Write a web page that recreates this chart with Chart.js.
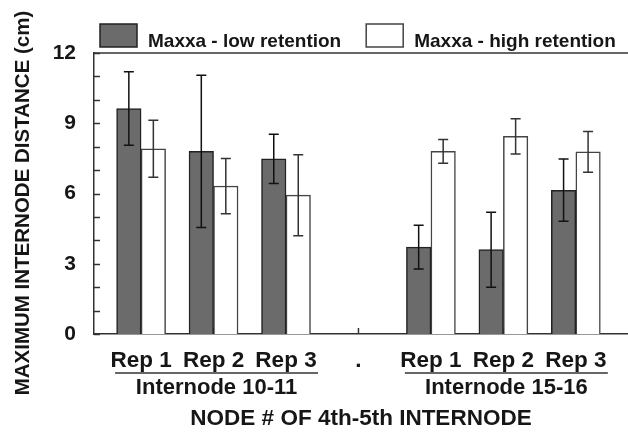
<!DOCTYPE html>
<html>
<head>
<meta charset="utf-8">
<script src="https://cdn.jsdelivr.net/npm/chart.js@4/dist/chart.umd.min.js"></script>
<style>
  html, body { margin: 0; padding: 0; background: #ffffff; }
  canvas { display: block; }
</style>
</head>
<body>
<canvas id="chart" width="628" height="432"></canvas>
<script>
// values (cm), "." is the empty spacer between the two internodes
const categories = ["Rep 1", "Rep 2", "Rep 3", ".", "Rep 1", "Rep 2", "Rep 3"]
const lowRetention = [9.63, 7.8, 7.48, null, 3.71, 3.6, 6.14]
const lowError = [1.57, 3.25, 1.05, null, 0.93, 1.6, 1.33]
const highRetention = [7.91, 6.32, 5.93, null, 7.8, 8.44, 7.78]
const highError = [1.22, 1.18, 1.73, null, 0.51, 0.75, 0.87]
const groupLabels = ["Internode 10-11", "Internode 15-16"]
const groupRanges = [[0, 2], [4, 6]]
const yTickValues = [0, 3, 6, 9, 12]
const yTitle = "MAXIMUM INTERNODE DISTANCE (cm)"

const FONT = "'Liberation Sans', Arial, Helvetica, sans-serif"
const INK = "#161616"
const DARK = "#6b6b6b"

Chart.defaults.font.family = FONT
Chart.defaults.color = INK

function points(values) {
    return values.map((y, i) => y == null ? null : { x: i, y: y }).filter(p => p)
}
function errs(values) {
    return values.filter(v => v != null)
}

const extras = {
    id: "extras",
    beforeDatasetsDraw(chart) {
        const ctx = chart.ctx
        const { left, right, top, bottom } = chart.chartArea
        const x = chart.scales.x, y = chart.scales.y
        ctx.save()
        ctx.strokeStyle = "#333"
        ctx.lineWidth = 1.5
        // inner tick marks
        for (let v = 0; v <= 12; v++) {
            const py = Math.round(y.getPixelForValue(v)) + 0.5
            ctx.beginPath(); ctx.moveTo(left, py); ctx.lineTo(left + 6, py); ctx.stroke()
        }
        categories.forEach((c, i) => {
            const px = x.getPixelForValue(i)
            ctx.beginPath(); ctx.moveTo(px, bottom); ctx.lineTo(px, bottom - 6); ctx.stroke()
        })
        // top frame line
        ctx.beginPath(); ctx.moveTo(left, top); ctx.lineTo(right, top); ctx.stroke()
        ctx.restore()
    },
    afterDatasetsDraw(chart) {
        const ctx = chart.ctx
        const y = chart.scales.y
        ctx.save()
        chart.data.datasets.forEach((ds, di) => {
            const meta = chart.getDatasetMeta(di)
            ctx.strokeStyle = di == 0 ? "#111" : "#333"
            ctx.lineWidth = 1.5
            meta.data.forEach((bar, j) => {
                const v = ds.data[j].y, e = ds.errors[j]
                const y1 = y.getPixelForValue(v + e), y2 = y.getPixelForValue(v - e)
                ctx.beginPath()
                ctx.moveTo(bar.x, y1); ctx.lineTo(bar.x, y2)
                ctx.moveTo(bar.x - 5, y1); ctx.lineTo(bar.x + 5, y1)
                ctx.moveTo(bar.x - 5, y2); ctx.lineTo(bar.x + 5, y2)
                ctx.stroke()
            })
        })
        ctx.restore()
    },
    afterDraw(chart) {
        const ctx = chart.ctx
        const x = chart.scales.x
        ctx.save()
        // group underlines and names
        ctx.strokeStyle = "#333"
        ctx.lineWidth = 1.5
        ctx.fillStyle = INK
        ctx.font = "bold 22px " + FONT
        ctx.textAlign = "center"
        ctx.textBaseline = "middle"
        groupRanges.forEach((r, g) => {
            const a = x.getPixelForValue(r[0]) - 26, b = x.getPixelForValue(r[1]) + 32
            ctx.beginPath(); ctx.moveTo(a, 373); ctx.lineTo(b, 373); ctx.stroke()
            ctx.fillText(groupLabels[g], x.getPixelForValue((r[0] + r[1]) / 2) + 3, 388)
        })
        // y axis title
        ctx.save()
        ctx.translate(23, 203)
        ctx.rotate(-Math.PI / 2)
        ctx.font = "bold 20.5px " + FONT
        ctx.fillText(yTitle, 0, 0)
        ctx.restore()
        // legend
        ctx.font = "bold 19px " + FONT
        ctx.textAlign = "left"
        ctx.textBaseline = "alphabetic"
        let lx = 100
        chart.data.datasets.forEach(ds => {
            ctx.fillStyle = ds.backgroundColor
            ctx.fillRect(lx, 24, 37, 23)
            ctx.strokeStyle = ds.borderColor
            ctx.lineWidth = 1.5
            ctx.strokeRect(lx, 24, 37, 23)
            ctx.fillStyle = INK
            ctx.fillText(ds.label, lx + 48, 47)
            lx += 48 + ctx.measureText(ds.label).width + 25
        })
        ctx.restore()
    }
}

new Chart(document.getElementById("chart"), {
    type: "bar",
    data: {
        datasets: [{
            label: "Maxxa - low retention",
            data: points(lowRetention),
            errors: errs(lowError),
            backgroundColor: DARK,
            borderColor: "#222",
            borderWidth: 1.5,
            barThickness: 24.5
        }, {
            label: "Maxxa - high retention",
            data: points(highRetention),
            errors: errs(highError),
            backgroundColor: "#ffffff",
            borderColor: "#444",
            borderWidth: 1.5,
            barThickness: 24.5
        }]
    },
    options: {
        responsive: false,
        animation: false,
        devicePixelRatio: 1,
        layout: { padding: { top: 53, right: 0, bottom: 0, left: 0 } },
        plugins: { legend: { display: false }, tooltip: { enabled: false } },
        scales: {
            x: {
                type: "linear",
                offset: false,
                min: -0.65,
                max: 6.72,
                grid: { display: false, offset: false },
                border: { display: true, color: "#333", width: 1.5 },
                afterBuildTicks: s => { s.ticks = categories.map((c, i) => ({ value: i })) },
                afterFit: s => { s.height = 98 },
                ticks: {
                    autoSkip: false,
                    maxRotation: 0,
                    padding: 5,
                    color: INK,
                    font: { size: 22.5, weight: "bold" },
                    callback: v => categories[v] || ""
                },
                title: {
                    display: true,
                    text: "NODE # OF 4th-5th INTERNODE",
                    color: INK,
                    font: { size: 22.5, weight: "bold" },
                    padding: 0
                }
            },
            y: {
                min: 0,
                max: 12,
                grid: { display: false },
                border: { display: true, color: "#333", width: 1.5 },
                afterBuildTicks: s => { s.ticks = yTickValues.map(v => ({ value: v })) },
                afterFit: s => { s.width = 94 },
                ticks: {
                    padding: 10,
                    color: INK,
                    font: { size: 21, weight: "bold" }
                }
            }
        }
    },
    plugins: [extras]
})
</script>
</body>
</html>
